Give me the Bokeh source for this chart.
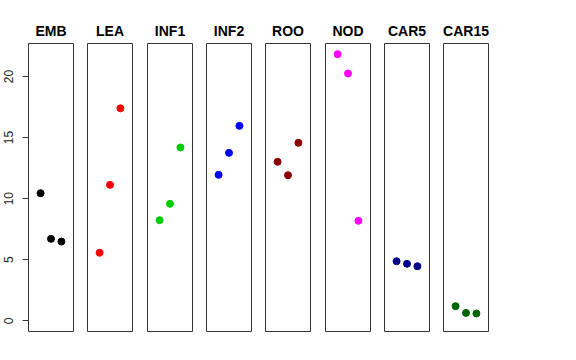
from bokeh.plotting import figure
from bokeh.layouts import row
from bokeh.models import Range1d, FixedTicker
from bokeh.embed import file_html
from bokeh.resources import INLINE

tissues = ["EMB", "LEA", "INF1", "INF2", "ROO", "NOD", "CAR5", "CAR15"]
colors = ["black", "red", "#00CD00", "blue", "#8B0000", "magenta", "#00008B", "#006400"]
reps = [1, 2, 3]
emb = [10.45, 6.71, 6.49]
lea = [5.57, 11.13, 17.40]
inf1 = [8.24, 9.58, 14.19]
inf2 = [11.95, 13.75, 15.96]
roo = [13.02, 11.92, 14.57]
nod = [21.83, 20.25, 8.19]
car5 = [4.88, 4.67, 4.47]
car15 = [1.20, 0.65, 0.60]
series = [emb, lea, inf1, inf2, roo, nod, car5, car15]
y_ticks = [0, 5, 10, 15, 20]

ymin, ymax = 0.0, max(max(s) for s in series)
pad = 0.04 * (ymax - ymin)
right_borders = [7, 8, 7, 7, 8, 7, 7, 7]

figs = []
for i, (name, col, vals) in enumerate(zip(tissues, colors, series)):
    p = figure(frame_width=45, frame_height=288,
               x_range=Range1d(-0.16, 4.16), y_range=Range1d(ymin - pad, ymax + pad),
               output_backend="svg", toolbar_location=None,
               min_border_left=28 if i == 0 else 7, min_border_right=right_borders[i],
               min_border_top=43, min_border_bottom=10)
    p.title.text = name
    p.title.align = "center"
    p.title.text_font = "Liberation Sans"
    p.title.text_font_size = "14px"
    p.title.text_font_style = "bold"
    p.title.text_color = "black"
    p.xaxis.visible = False
    p.grid.visible = False
    p.outline_line_color = "#333333"
    p.outline_line_width = 1
    p.background_fill_color = "white"
    p.border_fill_color = "white"
    if i == 0:
        ax = p.yaxis[0]
        ax.ticker = FixedTicker(ticks=y_ticks)
        ax.axis_line_color = None
        ax.major_tick_out = 6
        ax.major_tick_in = 0
        ax.minor_tick_line_color = None
        ax.major_label_orientation = "vertical"
        ax.major_label_standoff = 9
        ax.major_label_text_font = "Liberation Sans"
        ax.major_label_text_font_size = "12px"
        ax.major_label_text_color = "#222222"
        ax.major_tick_line_color = "#333333"
    else:
        p.yaxis.visible = False
    p.scatter(reps, vals, size=7, color=col, line_color=col)
    figs.append(p)

layout = row(*figs, spacing=0)
open("out.html", "w").write(file_html(layout, INLINE))
